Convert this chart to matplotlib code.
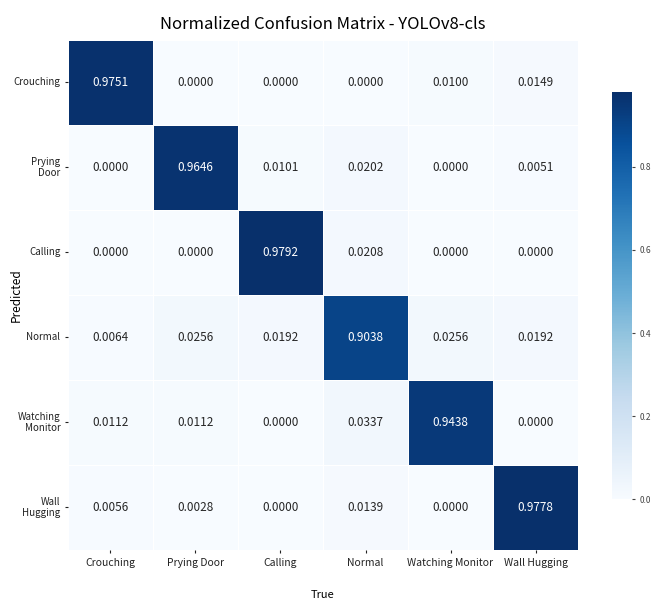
import numpy as np
import matplotlib
matplotlib.use("Agg")
import matplotlib.pyplot as plt
import seaborn as sns

labels_x = ["Crouching", "Prying Door", "Calling", "Normal", "Watching Monitor", "Wall Hugging"]
labels_y = ["Crouching", "Prying\nDoor", "Calling", "Normal", "Watching\nMonitor", "Wall\nHugging"]

row_crouching = [0.9751, 0.0000, 0.0000, 0.0000, 0.0100, 0.0149]
row_prying    = [0.0000, 0.9646, 0.0101, 0.0202, 0.0000, 0.0051]
row_calling   = [0.0000, 0.0000, 0.9792, 0.0208, 0.0000, 0.0000]
row_normal    = [0.0064, 0.0256, 0.0192, 0.9038, 0.0256, 0.0192]
row_watching  = [0.0112, 0.0112, 0.0000, 0.0337, 0.9438, 0.0000]
row_wall      = [0.0056, 0.0028, 0.0000, 0.0139, 0.0000, 0.9778]

cm = np.array([row_crouching, row_prying, row_calling, row_normal, row_watching, row_wall])

plt.rcParams['font.family'] = ['Noto Sans CJK SC', 'DejaVu Sans']

fig = plt.figure(figsize=(6.66, 6.03), dpi=100)
ax = fig.add_axes([0.102, 0.088, 0.766, 0.846])
cax = fig.add_axes([0.919, 0.172, 0.030, 0.675])

sns.heatmap(cm, annot=True, fmt=".4f", cmap="Blues", vmin=0, vmax=cm.max(),
            xticklabels=labels_x, yticklabels=labels_y, ax=ax, cbar_ax=cax,
            linewidths=0.5, linecolor="white",
            annot_kws={"fontsize": 8.5})

cax.tick_params(labelsize=6, length=2, colors="#444444")
for s in cax.spines.values():
    s.set_visible(False)

ax.set_title("Normalized Confusion Matrix - YOLOv8-cls", fontsize=12, pad=8)
ax.set_xlabel("True", fontsize=8, labelpad=16)
ax.set_ylabel("Predicted", fontsize=8.5)
ax.yaxis.set_label_coords(-0.088, 0.5)
ax.tick_params(axis='x', labelsize=7.5, rotation=0, length=2, colors="#222222")
ax.tick_params(axis='y', labelsize=7, rotation=0, length=2, colors="#222222")

fig.savefig("out.png", dpi=100)
